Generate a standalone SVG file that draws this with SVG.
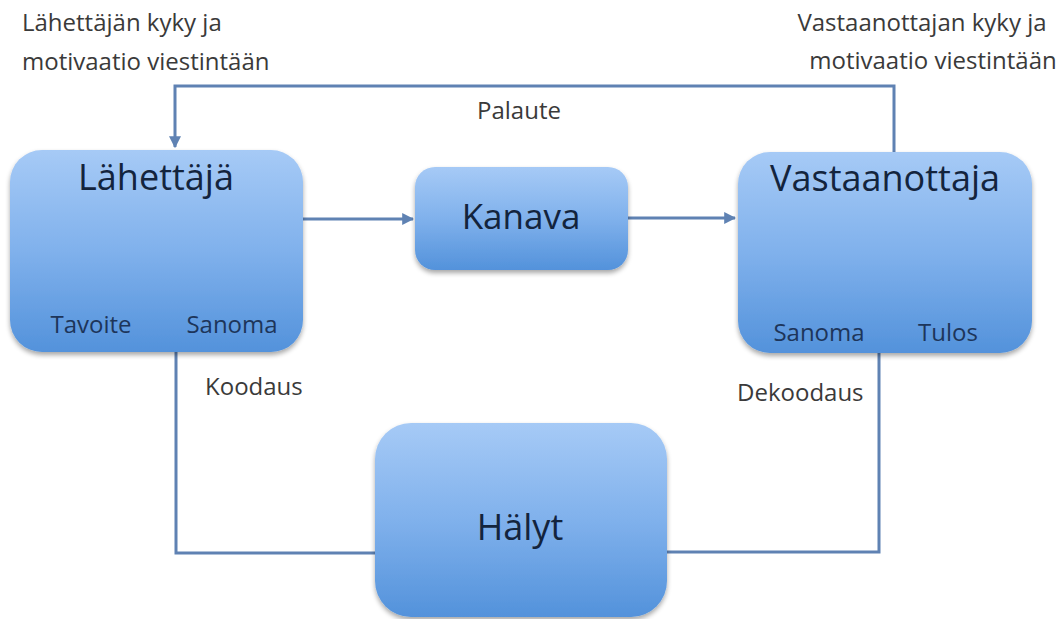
<svg xmlns="http://www.w3.org/2000/svg" width="1063" height="619" viewBox="0 0 1063 619">
<defs>
<linearGradient id="boxg" x1="0" y1="0" x2="0" y2="1">
<stop offset="0" stop-color="#a6caf6"/>
<stop offset="0.5" stop-color="#80b1ec"/>
<stop offset="1" stop-color="#5392db"/>
</linearGradient>
<filter id="sh" x="-10%" y="-10%" width="120%" height="125%">
<feGaussianBlur in="SourceAlpha" stdDeviation="2.5"/>
<feOffset dx="0" dy="3" result="b"/>
<feComponentTransfer><feFuncA type="linear" slope="0.35"/></feComponentTransfer>
<feMerge><feMergeNode/><feMergeNode in="SourceGraphic"/></feMerge>
</filter>
<marker id="arr" viewBox="0 0 10 10" refX="9" refY="5" markerWidth="4" markerHeight="4" orient="auto" markerUnits="strokeWidth">
<path d="M0 0 L10 5 L0 10 Z" fill="#5f82b3"/>
</marker>
</defs>
<style>
.box{fill:url(#boxg);filter:url(#sh);}
.title{font-family:"Open Sans","Liberation Sans",sans-serif;fill:#13243d;text-anchor:middle;}
.sub{font-family:"Open Sans","Liberation Sans",sans-serif;font-size:24px;fill:#1d355a;text-anchor:middle;}
.lbl{font-family:"Open Sans","Liberation Sans",sans-serif;font-size:24px;fill:#3a3a3a;}
.con{fill:none;stroke:#5f82b3;stroke-width:3;}
</style>
<rect width="1063" height="619" fill="#ffffff"/>
<g id="connectors">
<path class="con" d="M894 152 V86 H175 V147" marker-end="url(#arr)"/>
<path class="con" d="M294 219 H413" marker-end="url(#arr)"/>
<path class="con" d="M628 218 H735" marker-end="url(#arr)"/>
<path class="con" d="M176 352 V553 H387"/>
<path class="con" d="M879 353 V552 H667"/>
</g>
<g id="node-lahettaja">
<rect class="box" x="10" y="150" width="293" height="202" rx="32"/>
<text class="title" x="156" y="190" font-size="36">Lähettäjä</text>
<text class="sub" x="91" y="333">Tavoite</text>
<text class="sub" x="232" y="333">Sanoma</text>
</g>
<g id="node-kanava">
<rect class="box" x="415" y="167" width="213" height="103" rx="20"/>
<text class="title" x="521" y="229" font-size="35">Kanava</text>
</g>
<g id="node-vastaanottaja">
<rect class="box" x="738" y="152" width="294" height="201" rx="32"/>
<text class="title" x="885" y="191" font-size="36">Vastaanottaja</text>
<text class="sub" x="819" y="341">Sanoma</text>
<text class="sub" x="948" y="341">Tulos</text>
</g>
<g id="node-halyt">
<rect class="box" x="375" y="423" width="292" height="194" rx="36"/>
<text class="title" x="520" y="540" font-size="36">Hälyt</text>
</g>
<g id="labels">
<text class="lbl" x="22" y="31">Lähettäjän kyky ja</text>
<text class="lbl" x="22" y="70">motivaatio viestintään</text>
<text class="lbl" x="922" y="31" text-anchor="middle">Vastaanottajan kyky ja</text>
<text class="lbl" x="933" y="69" text-anchor="middle">motivaatio viestintään</text>
<text class="lbl" x="519" y="119" text-anchor="middle">Palaute</text>
<text class="lbl" x="205" y="395">Koodaus</text>
<text class="lbl" x="737" y="401">Dekoodaus</text>
</g>
</svg>
